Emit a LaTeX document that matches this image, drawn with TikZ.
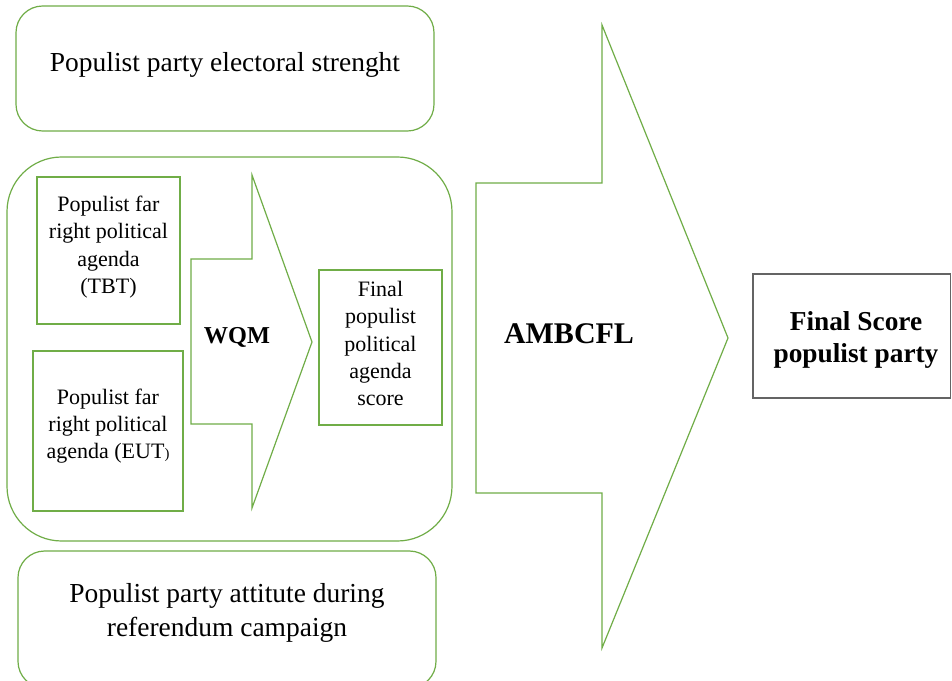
\documentclass[tikz,border=0pt]{standalone}
\usepackage{fontspec}
\setmainfont{Liberation Serif}
\definecolor{ogreen}{RGB}{112,173,71}
\definecolor{boxgray}{RGB}{100,100,100}
\begin{document}
\begin{tikzpicture}[x=0.75pt,y=-0.75pt,
  gline/.style={draw=ogreen,line width=0.9pt,line join=miter},
  txt/.style={inner sep=0pt,align=center,text=black},
  bigtxt/.style={txt,font=\fontsize{20.6pt}{25.5pt}\selectfont},
  smalltxt/.style={txt,font=\fontsize{16.5pt}{20.4pt}\selectfont}]
\useasboundingbox (0,0) rectangle (952,681);
\clip (0,0) rectangle (952,681);
\fill[white] (0,0) rectangle (952,681);
% rounded boxes
\draw[gline,rounded corners=20pt] (16,6) rectangle (434,131);
\draw[gline,rounded corners=41pt] (7,157) rectangle (452,541);
\draw[gline,rounded corners=20pt] (18,551) rectangle (436,688);
% inner boxes
\draw[gline] (37,177) rectangle (180,324);
\draw[gline] (33,351) rectangle (183,511);
\draw[gline] (319,270) rectangle (442,425);
% arrows
\draw[gline] (191,259) -- (252,259) -- (252,175) -- (312,342) -- (252,508) -- (252,424) -- (191,424) -- cycle;
\draw[gline] (476,183) -- (602,183) -- (602,25) -- (728,338) -- (602,648) -- (602,493) -- (476,493) -- cycle;
% final box
\draw[draw=boxgray,line width=1.1pt] (753,274) rectangle (950.5,398);
% texts
\node[bigtxt,anchor=base] (strength) at (225,72) {Populist party electoral strenght};
\node[bigtxt] (attitude) at (227,613) {Populist party attitute during\\referendum campaign};
\node[smalltxt] (tbt) at (108.5,247) {Populist far\\right political\\agenda\\(TBT)};
\node[smalltxt] (eut) at (108,426) {Populist far\\right political\\agenda (EUT{\fontsize{11pt}{11pt}\selectfont )}};
\node[smalltxt] (fpa) at (380.5,343.5) {Final\\populist\\political\\agenda\\score};
\node[txt,anchor=base,font=\fontsize{18.2pt}{22pt}\selectfont\bfseries] (wqm) at (237,343) {WQM};
\node[txt,anchor=base,font=\fontsize{22.5pt}{27pt}\selectfont\bfseries] (ambcfl) at (569,343) {AMBCFL};
\node[txt,font=\fontsize{20.5pt}{24pt}\selectfont\bfseries] (final) at (856,339.5) {Final Score\\populist party};
\end{tikzpicture}
\end{document}
